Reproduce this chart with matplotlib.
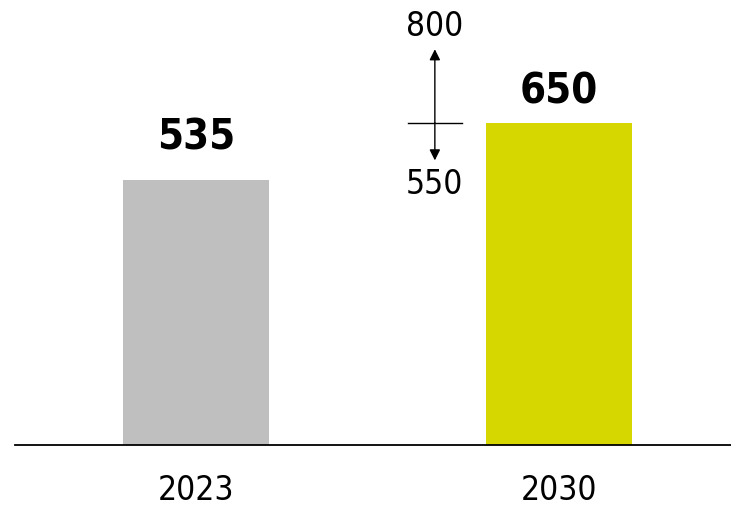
import matplotlib.pyplot as plt

years = ['2023', '2030']
values = [535, 650]
colors = ['#bfbfbf', '#d6d600']
range_low = 550
range_high = 800

plt.rcParams['font.family'] = ['DejaVu Sans']
plt.rcParams['font.stretch'] = 'condensed'

fig = plt.figure(figsize=(7.31, 5.06), dpi=100)
ax = fig.add_axes([15 / 731, 60 / 506, 716 / 731, 446 / 506])

x = list(range(len(years)))
bars = ax.bar(x, values, width=0.402, color=colors)

# value labels above bars (gap differs a bit in the original)
gaps = [16, 8]
for b, v, g in zip(bars, values, gaps):
    ax.annotate(f'{v}', (b.get_x() + b.get_width() / 2, v),
                xytext=(0, g), textcoords='offset points',
                ha='center', va='bottom', fontsize=30, fontweight='bold')

# range marker next to the 2030 bar
mx = 0.658
ax.plot([mx - 0.074, mx + 0.074], [values[1], values[1]], color='black', lw=1)
ax.annotate('', xy=(mx, values[1]), xytext=(0, 53), textcoords='offset points',
            arrowprops=dict(arrowstyle='<|-', color='black', lw=1,
                            mutation_scale=16, shrinkA=0, shrinkB=0))
ax.annotate('', xy=(mx, values[1]), xytext=(0, -27), textcoords='offset points',
            arrowprops=dict(arrowstyle='<|-', color='black', lw=1,
                            mutation_scale=16, shrinkA=0, shrinkB=0))
ax.annotate(f'{range_high}', (mx, values[1]), xytext=(0, 58), textcoords='offset points',
            ha='center', va='bottom', fontsize=24)
ax.annotate(f'{range_low}', (mx, values[1]), xytext=(0, -32), textcoords='offset points',
            ha='center', va='top', fontsize=24)

ax.set_xlim(-0.4986, 1.4738)
ax.set_ylim(0, 900)
ax.set_xticks(x)
ax.set_xticklabels(years, fontsize=24)
ax.tick_params(axis='x', length=0, pad=20)
ax.set_yticks([])
for s in ['top', 'right', 'left']:
    ax.spines[s].set_visible(False)
ax.spines['bottom'].set_linewidth(1.3)

fig.savefig('out.png', dpi=100)
